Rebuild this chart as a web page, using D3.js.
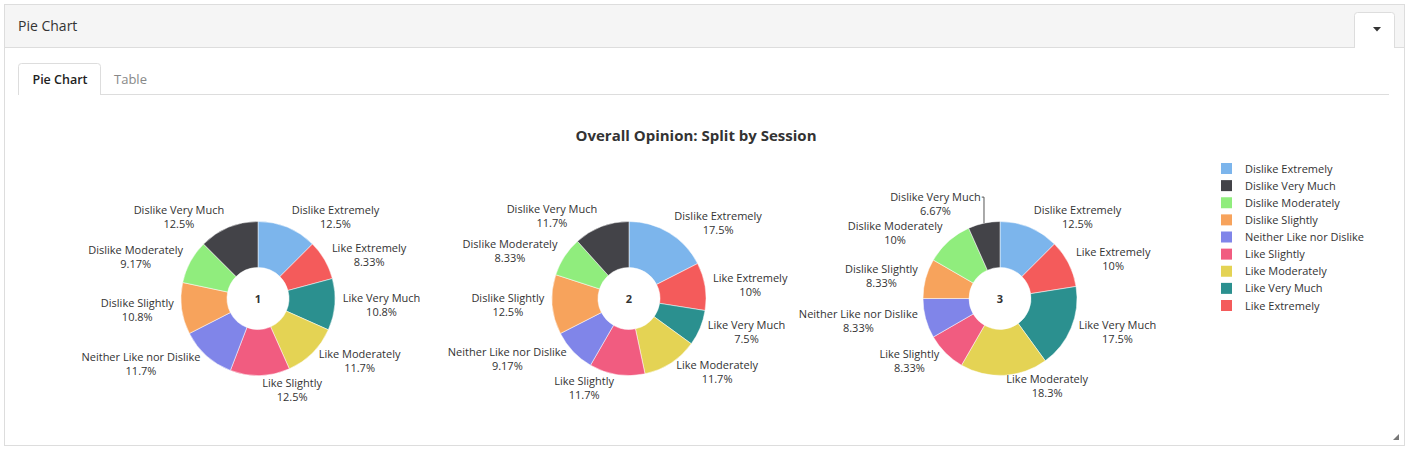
<!DOCTYPE html>
<html>
<head>
<meta charset="utf-8">
<script src="https://cdn.jsdelivr.net/npm/d3@7"></script>
<style>
  body { margin: 0; background: #fff; font-family: "Open Sans", sans-serif; }
  svg text { font-family: "Open Sans", sans-serif; }
</style>
</head>
<body>
<svg id="canvas"></svg>
<script>
// opinion categories, in slice order
const categories = [
  "Dislike Extremely", "Like Extremely", "Like Very Much", "Like Moderately",
  "Like Slightly", "Neither Like nor Dislike", "Dislike Slightly",
  "Dislike Moderately", "Dislike Very Much"
];
const legendOrder = [
  "Dislike Extremely", "Dislike Very Much", "Dislike Moderately", "Dislike Slightly",
  "Neither Like nor Dislike", "Like Slightly", "Like Moderately", "Like Very Much",
  "Like Extremely"
];
const colors = {
  "Dislike Extremely": "#7cb5ec",
  "Dislike Very Much": "#434348",
  "Dislike Moderately": "#90ed7d",
  "Dislike Slightly": "#f7a35c",
  "Neither Like nor Dislike": "#8085e9",
  "Like Slightly": "#f15c80",
  "Like Moderately": "#e4d354",
  "Like Very Much": "#2b908f",
  "Like Extremely": "#f45b5b"
};
const sessions = ["1", "2", "3"];
// respondent counts per category (same order as categories), 120 per session
const session1 = [15, 10, 13, 14, 15, 14, 13, 11, 15];
const session2 = [21, 12, 9, 14, 14, 11, 15, 10, 14];
const session3 = [15, 12, 21, 22, 10, 10, 10, 12, 8];
const sessionCounts = [session1, session2, session3];

const width = 1410, height = 452;
const svg = d3.select("#canvas").attr("width", width).attr("height", height);

// ---- panel chrome ----
svg.append("rect").attr("x", 4.5).attr("y", 4.5).attr("width", 1400).attr("height", 441)
  .attr("fill", "#fff").attr("stroke", "#ddd");
svg.append("rect").attr("x", 5).attr("y", 5).attr("width", 1399).attr("height", 42.5)
  .attr("fill", "#f5f5f5");
svg.append("line").attr("x1", 5).attr("x2", 1404).attr("y1", 47.5).attr("y2", 47.5)
  .attr("stroke", "#ddd");
svg.append("text").attr("x", 18).attr("y", 31).attr("font-size", 14).attr("fill", "#333")
  .text("Pie Chart");
// dropdown button
svg.append("path").attr("d", "M1354.5,48 V15.5 Q1354.5,12.5 1357.5,12.5 H1391.5 Q1394.5,12.5 1394.5,15.5 V48")
  .attr("fill", "#fff").attr("stroke", "#ddd");
svg.append("path").attr("d", "M1373,27 L1381,27 L1377,31.5 Z").attr("fill", "#333");

// tabs
svg.append("line").attr("x1", 18).attr("x2", 1389).attr("y1", 94.5).attr("y2", 94.5)
  .attr("stroke", "#ddd");
svg.append("path").attr("d", "M18.5,95 V66.5 Q18.5,63.5 21.5,63.5 H97.5 Q100.5,63.5 100.5,66.5 V95")
  .attr("fill", "#fff").attr("stroke", "#ddd");
svg.append("text").attr("x", 60).attr("y", 84).attr("text-anchor", "middle")
  .attr("font-size", 12.5).attr("font-weight", 600).attr("fill", "#222").text("Pie Chart");
svg.append("text").attr("x", 130.5).attr("y", 84).attr("text-anchor", "middle")
  .attr("font-size", 13).attr("fill", "#888").text("Table");

// resize grip
svg.append("path").attr("d", "M1399,434 L1399,440 L1393,440 Z").attr("fill", "#777");

// ---- chart ----
svg.append("text").attr("x", 696).attr("y", 141).attr("text-anchor", "middle")
  .attr("font-size", 15).attr("font-weight", 700).attr("fill", "#333")
  .text("Overall Opinion: Split by Session");

const x = d3.scaleBand().domain(sessions).range([72.5, 1185.5]).padding(0);
const cy = 298.5;
const outerR = 77, innerR = 31;
const labelRy = 88, labelRx = 83, labelPad = 2, labelH = 29;

const pie = d3.pie().sort(null).value(d => d.count);
const arc = d3.arc().innerRadius(innerR).outerRadius(outerR);
const fmt = d3.format(".3~r");

// push overlapping labels away from the horizontal centre line
function spread(items, size) {
  const upper = items.filter(d => d.target < 0).sort((a, b) => b.target - a.target);
  const lower = items.filter(d => d.target >= 0).sort((a, b) => a.target - b.target);
  let prev = null;
  upper.forEach(d => { d.ly = prev === null ? d.target : Math.min(d.target, prev - size); prev = d.ly; });
  prev = null;
  lower.forEach(d => { d.ly = prev === null ? d.target : Math.max(d.target, prev + size); prev = d.ly; });
}

sessions.forEach((s, si) => {
  const cx = x(s) + x.bandwidth() / 2;
  const counts = sessionCounts[si];
  const total = d3.sum(counts);
  const data = categories.map((c, i) => ({ name: c, count: counts[i], pct: counts[i] / total * 100 }));
  const arcs = pie(data);

  const g = svg.append("g").attr("transform", `translate(${cx},${cy})`);
  g.selectAll("path.slice").data(arcs).enter().append("path")
    .attr("class", "slice")
    .attr("d", arc)
    .attr("fill", d => colors[d.data.name])
    .attr("stroke", "#fff").attr("stroke-width", 0.5);

  g.append("text").attr("text-anchor", "middle").attr("y", 4.5)
    .attr("font-size", 11).attr("font-weight", 700).attr("fill", "#333").text(s);

  const labels = arcs.map(a => {
    const mid = (a.startAngle + a.endAngle) / 2;
    return {
      arc: a, mid,
      right: mid < Math.PI,
      target: -labelRy * Math.cos(mid),
      ex: labelRx * Math.sin(mid)
    };
  });
  spread(labels.filter(l => l.right), labelH);
  spread(labels.filter(l => !l.right), labelH);

  labels.forEach(l => {
    const t = g.append("text").attr("font-size", 11).attr("fill", "#333").attr("text-anchor", "middle");
    const t1 = t.append("tspan").attr("x", 0).attr("y", l.ly - 3).text(l.arc.data.name);
    const t2 = t.append("tspan").attr("x", 0).attr("y", l.ly + 11).text(fmt(l.arc.data.pct) + "%");
    const w = Math.max(t1.node().getComputedTextLength(), t2.node().getComputedTextLength());
    const edge = l.right ? l.ex + labelPad : l.ex - labelPad;
    const bx = l.right ? edge + w / 2 : edge - w / 2;
    t1.attr("x", bx); t2.attr("x", bx);

    // connector only for labels pushed well away from their slice
    if (Math.abs(l.ly - l.target) > 5) {
      const px = outerR * Math.sin(l.mid), py = -outerR * Math.cos(l.mid);
      const lineY = l.ly - 7;
      g.append("path")
        .attr("d", `M${edge + (l.right ? -1 : 1)},${lineY} H${px} V${py}`)
        .attr("fill", "none").attr("stroke", "#555").attr("stroke-width", 1);
    }
  });
});

// legend
const legendY = d3.scalePoint().domain(legendOrder).range([168.5, 305.5]);
const legend = svg.append("g");
legend.selectAll("rect").data(legendOrder).enter().append("rect")
  .attr("x", 1221).attr("y", d => legendY(d) - 5.5)
  .attr("width", 11).attr("height", 11)
  .attr("fill", d => colors[d]);
legend.selectAll("text").data(legendOrder).enter().append("text")
  .attr("x", 1245).attr("y", d => legendY(d) + 4)
  .attr("font-size", 11).attr("fill", "#333")
  .text(d => d);
</script>
</body>
</html>
